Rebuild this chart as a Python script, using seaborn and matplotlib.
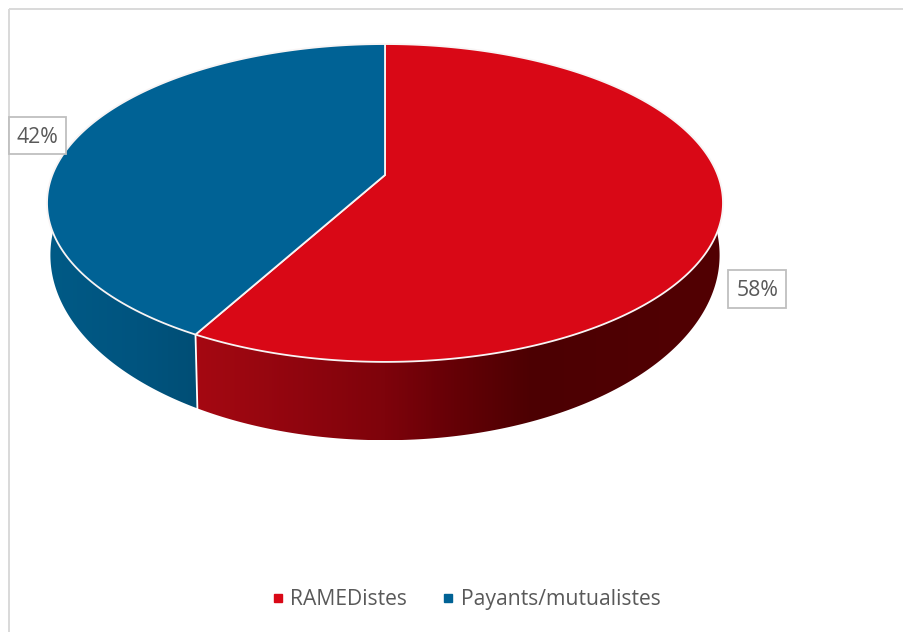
import numpy as np
import matplotlib
matplotlib.use("Agg")
import matplotlib.pyplot as plt
import seaborn as sns
from matplotlib.colors import LinearSegmentedColormap
from matplotlib.lines import Line2D
from matplotlib.patches import Polygon, Rectangle
from matplotlib.path import Path
from matplotlib.transforms import Transform

# Hospital payer mix
categories = ["RAMEDistes", "Payants/mutualistes"]
shares = [58, 42]
share_labels = ["58%", "42%"]
top_colors = ["#D90816", "#006295"]
side_stops = [
    [(0.0, "#A50812"), (0.36, "#7E030B"), (0.49, "#650006"), (0.64, "#4C0002"), (1.0, "#520003")],
    [(0.0, "#005A86"), (0.6, "#00547F"), (1.0, "#004E75")],
]

sns.set_theme(style="white")
plt.rcParams["font.family"] = ["Open Sans", "DejaVu Sans"]
TEXT = "#595959"

W, H = 904, 632
CX, CY = 385.0, 175.0
A, B, K = 332.7, 154.0, 0.176
LOWER = dict(sx=0.99, sy=1.165, cy=222.5)


class Tilted(Transform):
    """Perspective view of the unit disc, in figure pixels."""
    input_dims = output_dims = 2

    def __init__(self, sx=1.0, sy=1.0, cy=CY):
        super().__init__()
        self.sx, self.sy, self.cy = sx, sy, cy

    def transform_non_affine(self, values):
        values = np.asarray(values, dtype=float)
        w = 1 + K * values[:, 1]
        return np.column_stack([
            CX + self.sx * A * values[:, 0] / w,
            self.cy - self.sy * B * values[:, 1] / w,
        ])

    def transform_path_non_affine(self, path):
        # Sample the curves so the projected outline stays accurate
        pts = [seg(np.linspace(0, 1, 40)) for seg, _ in path.iter_bezier()
               if seg.degree > 0]
        return Path(self.transform_non_affine(np.vstack(pts)))


fig = plt.figure(figsize=(W / 100, H / 100), dpi=100, facecolor="white")
ax = fig.add_axes([0, 0, 1, 1])

# Side wall, from the left edge round the front to the right edge
total = sum(shares)
boundary = 90 + 360 * shares[1] / total
ranges = [(boundary, 375), (165, boundary)]
for (start, stop), stops in zip(ranges, side_stops):
    th = np.radians(np.linspace(start, stop, 240))
    circle = np.column_stack([np.cos(th), np.sin(th)])
    upper = Tilted().transform_non_affine(circle)
    lower = Tilted(**LOWER).transform_non_affine(circle)
    outline = np.vstack([upper, lower[::-1]])
    x0, x1 = outline[:, 0].min(), outline[:, 0].max()
    cmap = LinearSegmentedColormap.from_list("wall", stops)
    img = ax.imshow(np.linspace(0, 1, 256)[None, :], cmap=cmap, aspect="auto",
                    extent=(x0, x1, outline[:, 1].max(), outline[:, 1].min()),
                    zorder=1)
    clip = Polygon(outline, closed=True, transform=ax.transData,
                   fc="none", ec="none")
    ax.add_patch(clip)
    img.set_clip_path(clip)

# Seam between the two wall segments
seam = np.radians(boundary)
seam_pt = np.array([[np.cos(seam), np.sin(seam)]])
p0 = Tilted().transform_non_affine(seam_pt)[0]
p1 = Tilted(**LOWER).transform_non_affine(seam_pt)[0]
ax.plot([p0[0], p1[0]], [p0[1], p1[1]], color="white", lw=1.3, zorder=2)

# Top face
wedges, _ = ax.pie(shares, colors=top_colors, startangle=90, counterclock=False,
                   wedgeprops=dict(edgecolor="#F8F4F4", linewidth=1.3))
for wedge in wedges:
    wedge.set_transform(Tilted() + ax.transData)
    wedge.set_zorder(3)

ax.set_aspect("auto")
ax.set_xlim(0, W)
ax.set_ylim(H, 0)
ax.axis("off")

# Chart area border: only its top and left edges fall inside the canvas
ax.add_patch(Rectangle((9, 9), W + 20, H + 20, fc="none", ec="#D9D9D9", lw=1.4, zorder=0))

# Value callouts
label_xy = [(757.5, 288.5), (37.5, 135.5)]
box_sizes = [(58, 38), (57, 37)]
for text, (x, y), (bw, bh) in zip(share_labels, label_xy, box_sizes):
    ax.add_patch(Rectangle((x - bw / 2, y - bh / 2), bw, bh, fc="white",
                           ec="#BFBFBF", lw=1.3, zorder=5))
    ax.text(x, y + 2, text, ha="center", va="center", fontsize=15.3, color=TEXT, zorder=6)

# Legend
handles = [Line2D([], [], ls="", marker="s", ms=5.4, color=c, label=n)
           for c, n in zip(top_colors, categories)]
ax.legend(handles=handles, loc="center", bbox_to_anchor=(467 / W, 1 - 599.5 / H),
          ncol=2, frameon=False, fontsize=15.2, labelcolor=TEXT, handlelength=0.4,
          handletextpad=0.4, columnspacing=1.75)

fig.savefig("out.png", dpi=100)
